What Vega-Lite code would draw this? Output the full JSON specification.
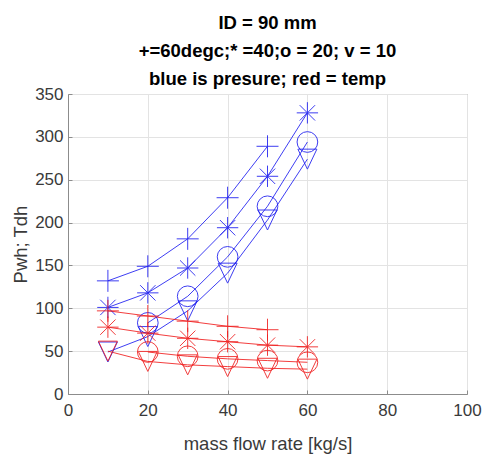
{
  "$schema": "https://vega.github.io/schema/vega-lite/v6.json",
  "autosize": "none",
  "padding": {"left": 68, "top": 94, "right": 16, "bottom": 60},
  "width": 399,
  "height": 300,
  "background": "white",
  "title": {
    "text": ["ID = 90 mm", "+=60degc;* =40;o = 20; v = 10", "blue is presure; red = temp"],
    "font": "Liberation Sans",
    "fontSize": 18.5,
    "fontWeight": "bold",
    "color": "#000000",
    "lineHeight": 28,
    "anchor": "middle",
    "frame": "group",
    "baseline": "bottom",
    "offset": 8,
    "dy": 30
  },
  "datasets": {
    "curves": [
      {"flow": 10, "value": 132, "qty": "P", "temp": "60"},
      {"flow": 20, "value": 149, "qty": "P", "temp": "60"},
      {"flow": 30, "value": 181, "qty": "P", "temp": "60"},
      {"flow": 40, "value": 229, "qty": "P", "temp": "60"},
      {"flow": 50, "value": 289, "qty": "P", "temp": "60"},
      {"flow": 10, "value": 101, "qty": "P", "temp": "40"},
      {"flow": 20, "value": 118, "qty": "P", "temp": "40"},
      {"flow": 30, "value": 147, "qty": "P", "temp": "40"},
      {"flow": 40, "value": 194, "qty": "P", "temp": "40"},
      {"flow": 50, "value": 254, "qty": "P", "temp": "40"},
      {"flow": 60, "value": 328, "qty": "P", "temp": "40"},
      {"flow": 20, "value": 83, "qty": "P", "temp": "20"},
      {"flow": 30, "value": 114, "qty": "P", "temp": "20"},
      {"flow": 40, "value": 160, "qty": "P", "temp": "20"},
      {"flow": 50, "value": 219, "qty": "P", "temp": "20"},
      {"flow": 60, "value": 294, "qty": "P", "temp": "20"},
      {"flow": 10, "value": 49, "qty": "P", "temp": "10"},
      {"flow": 20, "value": 67, "qty": "P", "temp": "10"},
      {"flow": 30, "value": 97, "qty": "P", "temp": "10"},
      {"flow": 40, "value": 141, "qty": "P", "temp": "10"},
      {"flow": 50, "value": 203, "qty": "P", "temp": "10"},
      {"flow": 60, "value": 274, "qty": "P", "temp": "10"},
      {"flow": 10, "value": 97, "qty": "T", "temp": "60"},
      {"flow": 20, "value": 91, "qty": "T", "temp": "60"},
      {"flow": 30, "value": 85, "qty": "T", "temp": "60"},
      {"flow": 40, "value": 79, "qty": "T", "temp": "60"},
      {"flow": 50, "value": 75, "qty": "T", "temp": "60"},
      {"flow": 10, "value": 78, "qty": "T", "temp": "40"},
      {"flow": 20, "value": 71, "qty": "T", "temp": "40"},
      {"flow": 30, "value": 65, "qty": "T", "temp": "40"},
      {"flow": 40, "value": 61, "qty": "T", "temp": "40"},
      {"flow": 50, "value": 57, "qty": "T", "temp": "40"},
      {"flow": 60, "value": 55, "qty": "T", "temp": "40"},
      {"flow": 20, "value": 49, "qty": "T", "temp": "20"},
      {"flow": 30, "value": 44, "qty": "T", "temp": "20"},
      {"flow": 40, "value": 41, "qty": "T", "temp": "20"},
      {"flow": 50, "value": 39, "qty": "T", "temp": "20"},
      {"flow": 60, "value": 37, "qty": "T", "temp": "20"},
      {"flow": 10, "value": 50, "qty": "T", "temp": "10"},
      {"flow": 20, "value": 38, "qty": "T", "temp": "10"},
      {"flow": 30, "value": 34, "qty": "T", "temp": "10"},
      {"flow": 40, "value": 32, "qty": "T", "temp": "10"},
      {"flow": 50, "value": 30, "qty": "T", "temp": "10"},
      {"flow": 60, "value": 29, "qty": "T", "temp": "10"}
    ],
    "limits": [
      {"level": 120, "qty": "P"},
      {"level": 15, "qty": "T"}
    ]
  },
  "layer": [
    {
      "data": {"name": "limits"},
      "mark": {"type": "rule", "strokeWidth": 1, "strokeDash": [9, 5], "opacity": 0.75},
      "encoding": {
        "y": {"field": "level", "type": "quantitative"},
        "color": {"field": "qty", "type": "nominal"}
      }
    },
    {
      "data": {"name": "curves"},
      "mark": {"type": "line", "strokeWidth": 1, "opacity": 0.85},
      "encoding": {
        "x": {"field": "flow", "type": "quantitative"},
        "y": {"field": "value", "type": "quantitative"},
        "color": {"field": "qty", "type": "nominal"},
        "detail": {"field": "temp", "type": "nominal"}
      }
    },
    {
      "data": {"name": "curves"},
      "mark": {"type": "point", "filled": false, "strokeWidth": 1, "opacity": 0.85},
      "encoding": {
        "x": {"field": "flow", "type": "quantitative"},
        "y": {"field": "value", "type": "quantitative"},
        "color": {"field": "qty", "type": "nominal"},
        "shape": {
          "field": "temp",
          "type": "nominal",
          "scale": {
            "domain": ["60", "40", "20", "10"],
            "range": [
              "M-1,0L1,0M0,-1L0,1",
              "M-1,0L1,0M0,-1L0,1M-0.72,-0.72L0.72,0.72M-0.72,0.72L0.72,-0.72",
              "circle",
              "M-0.95,-1L0.95,-1L0,1Z"
            ]
          },
          "legend": null
        },
        "size": {
          "field": "temp",
          "type": "ordinal",
          "scale": {"domain": ["60", "40", "20", "10"], "range": [484, 400, 324, 400]},
          "legend": null
        }
      }
    }
  ],
  "resolve": {"scale": {"color": "shared"}},
  "encoding": {
    "x": {
      "field": "flow",
      "type": "quantitative",
      "scale": {"domain": [0, 100], "nice": false},
      "axis": {
        "values": [0, 20, 40, 60, 80, 100],
        "title": "mass flow rate [kg/s]",
        "titleY": 55,
        "titleBaseline": "alphabetic",
        "labelPadding": 12,
        "labelFlush": false
      }
    },
    "y": {
      "field": "value",
      "type": "quantitative",
      "scale": {"domain": [0, 350], "nice": false},
      "axis": {
        "values": [0, 50, 100, 150, 200, 250, 300, 350],
        "title": "Pwh; Tdh",
        "titleX": -42,
        "titleY": 150,
        "titleAngle": -90,
        "titleAlign": "center",
        "titleBaseline": "alphabetic",
        "labelPadding": 9,
        "labelFlush": false
      }
    },
    "color": {
      "field": "qty",
      "type": "nominal",
      "scale": {"domain": ["P", "T"], "range": ["#1c1cf0", "#f01c1c"]},
      "legend": null
    }
  },
  "config": {
    "view": {"stroke": "#8c8c8c", "strokeWidth": 1},
    "axis": {
      "domainColor": "#8c8c8c",
      "gridColor": "#e3e3e3",
      "grid": true,
      "ticks": true,
      "tickSize": -4,
      "tickColor": "#8c8c8c",
      "labelFont": "Liberation Sans",
      "labelFontSize": 17,
      "labelColor": "#3a3a3a",
      "titleFont": "Liberation Sans",
      "titleFontSize": 18.5,
      "titleFontWeight": "normal",
      "titleColor": "#3a3a3a"
    }
  }
}
